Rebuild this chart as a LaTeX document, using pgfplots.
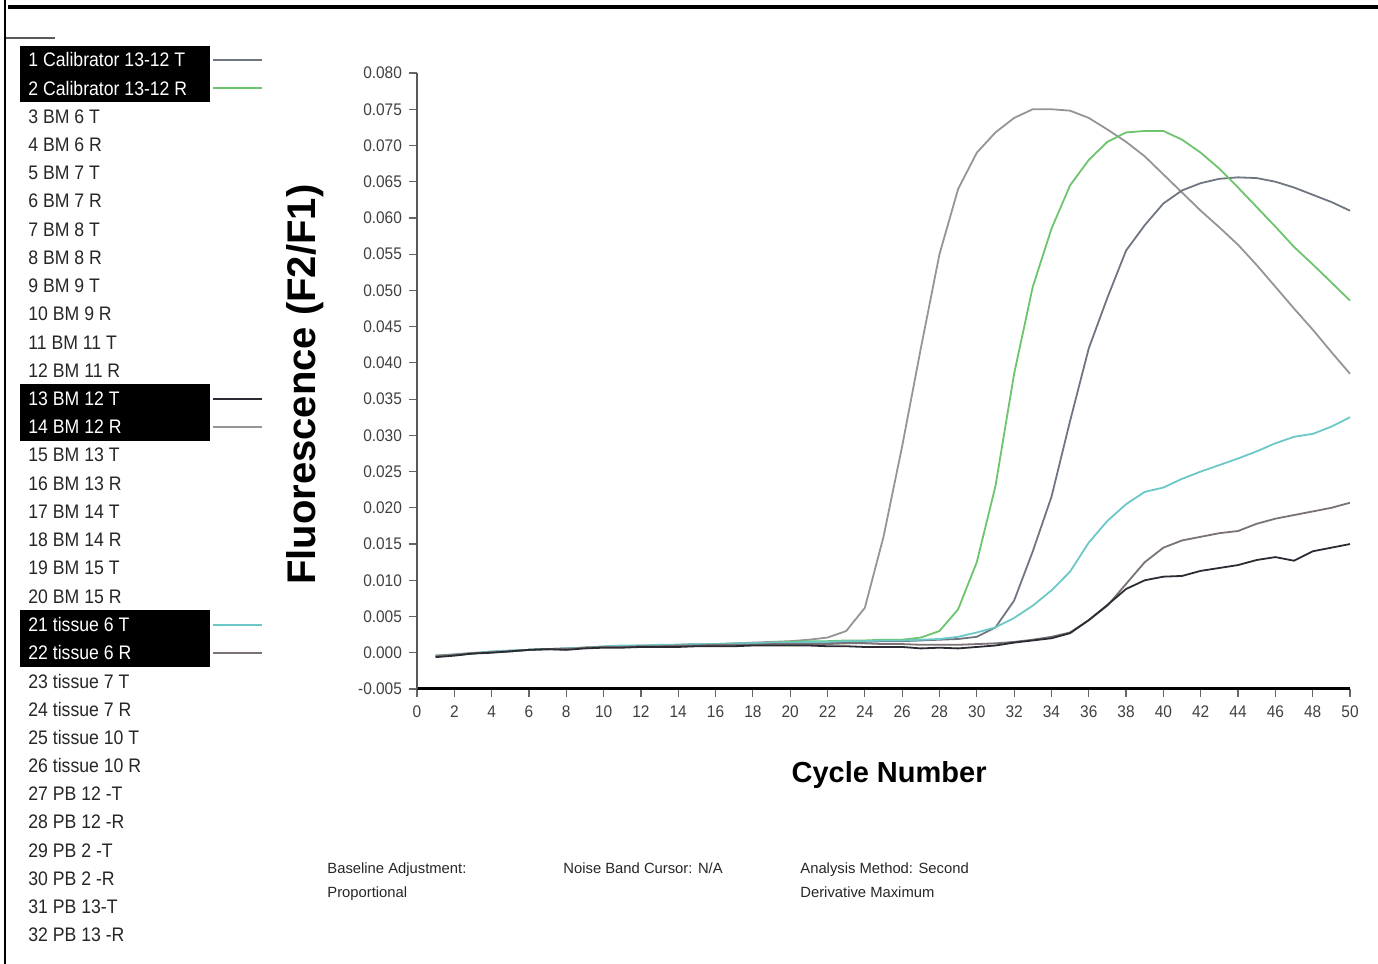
\documentclass[border=0pt]{standalone}
\usepackage{fontspec}
\setmainfont{Liberation Sans}
\newfontfamily\narrow[FakeStretch=0.9]{Liberation Sans}
\newfontfamily\ticknarrow[FakeStretch=0.92]{Liberation Sans}
\usepackage{pgfplots}
\usepackage{pgfplotstable}
\pgfplotsset{compat=1.18}

\definecolor{crvA}{HTML}{959595}
\definecolor{crvB}{HTML}{6CC46C}
\definecolor{crvC}{HTML}{6F7680}
\definecolor{crvD}{HTML}{6CC8C8}
\definecolor{crvE}{HTML}{7A7274}
\definecolor{crvF}{HTML}{2B2B33}

% cycle, then the six highlighted samples
\pgfplotstableread{
cyc A B C D E F
1  -0.0004 -0.0005 -0.0004 -0.0005 -0.0005 -0.0006
2  -0.0002 -0.0003 -0.0003 -0.0003 -0.0003 -0.0004
3   0.0000 -0.0001 -0.0001 -0.0001 -0.0001 -0.0001
4   0.0001  0.0001  0.0001  0.0002  0.0001  0.0000
5   0.0003  0.0002  0.0002  0.0003  0.0002  0.0002
6   0.0004  0.0004  0.0004  0.0004  0.0004  0.0004
7   0.0005  0.0005  0.0005  0.0005  0.0005  0.0005
8   0.0006  0.0005  0.0006  0.0006  0.0005  0.0004
9   0.0007  0.0007  0.0007  0.0007  0.0007  0.0006
10  0.0008  0.0008  0.0008  0.0009  0.0008  0.0007
11  0.0009  0.0009  0.0008  0.0010  0.0008  0.0007
12  0.0010  0.0009  0.0009  0.0010  0.0009  0.0008
13  0.0010  0.0010  0.0009  0.0011  0.0009  0.0008
14  0.0011  0.0011  0.0010  0.0011  0.0010  0.0008
15  0.0012  0.0011  0.0010  0.0012  0.0010  0.0009
16  0.0012  0.0012  0.0011  0.0012  0.0011  0.0009
17  0.0013  0.0012  0.0011  0.0013  0.0011  0.0009
18  0.0014  0.0013  0.0012  0.0013  0.0011  0.0010
19  0.0015  0.0014  0.0012  0.0014  0.0012  0.0010
20  0.0016  0.0015  0.0013  0.0014  0.0012  0.0010
21  0.0018  0.0016  0.0014  0.0015  0.0012  0.0010
22  0.0021  0.0016  0.0014  0.0015  0.0012  0.0009
23  0.0030  0.0017  0.0015  0.0016  0.0013  0.0009
24  0.0062  0.0017  0.0015  0.0016  0.0013  0.0008
25  0.0160  0.0018  0.0016  0.0017  0.0012  0.0008
26  0.0285  0.0018  0.0016  0.0017  0.0012  0.0008
27  0.0420  0.0021  0.0017  0.0018  0.0011  0.0006
28  0.0550  0.0030  0.0018  0.0019  0.0011  0.0007
29  0.0640  0.0060  0.0019  0.0022  0.0011  0.0006
30  0.0690  0.0125  0.0022  0.0028  0.0012  0.0008
31  0.0718  0.0230  0.0035  0.0035  0.0013  0.0010
32  0.0738  0.0385  0.0072  0.0048  0.0015  0.0014
33  0.0750  0.0505  0.0140  0.0065  0.0018  0.0017
34  0.0750  0.0585  0.0215  0.0086  0.0022  0.0020
35  0.0748  0.0645  0.0320  0.0112  0.0028  0.0027
36  0.0738  0.0680  0.0420  0.0152  0.0045  0.0045
37  0.0722  0.0705  0.0490  0.0182  0.0065  0.0066
38  0.0705  0.0718  0.0555  0.0205  0.0095  0.0088
39  0.0685  0.0720  0.0590  0.0222  0.0125  0.0100
40  0.0660  0.0720  0.0620  0.0228  0.0145  0.0105
41  0.0635  0.0708  0.0638  0.0240  0.0155  0.0106
42  0.0610  0.0690  0.0648  0.0250  0.0160  0.0113
43  0.0587  0.0668  0.0654  0.0259  0.0165  0.0117
44  0.0563  0.0642  0.0656  0.0268  0.0168  0.0121
45  0.0535  0.0615  0.0655  0.0278  0.0178  0.0128
46  0.0505  0.0588  0.0650  0.0289  0.0185  0.0132
47  0.0475  0.0560  0.0642  0.0298  0.0190  0.0127
48  0.0446  0.0536  0.0632  0.0302  0.0195  0.0140
49  0.0415  0.0511  0.0622  0.0312  0.0200  0.0145
50  0.0385  0.0486  0.0610  0.0325  0.0207  0.0150
}\amp

\begin{document}
\begin{tikzpicture}
\useasboundingbox (0,0) rectangle (689pt,482pt);

% page frame
\draw[line width=1pt] (2.5pt,0) -- (2.5pt,482pt);
\draw[line width=1.6pt] (4pt,478.5pt) -- (689pt,478.5pt);
\draw[line width=1pt, gray!70!black] (3pt,463pt) -- (27.5pt,463pt);

% highlighted sample boxes
\fill[black] (10pt,459pt) rectangle (105pt,431pt);
\fill[black] (10pt,290pt) rectangle (105pt,261.5pt);
\fill[black] (10pt,177pt) rectangle (105pt,148.5pt);

\foreach \n/\lab in {3/{3 BM 6 T},4/{4 BM 6 R},5/{5 BM 7  T},6/{6 BM 7 R},
  7/{7 BM 8  T},8/{8 BM 8 R},9/{9 BM 9  T},10/{10 BM 9 R},11/{11 BM 11  T},
  12/{12 BM 11 R},15/{15 BM 13  T},16/{16 BM 13 R},17/{17 BM 14 T},
  18/{18 BM 14 R},19/{19 BM 15  T},20/{20 BM 15 R},23/{23 tissue 7 T},
  24/{24 tissue 7  R},25/{25 tissue 10 T},26/{26 tissue 10  R},
  27/{27 PB 12 -T},28/{28 PB 12 -R},29/{29 PB 2 -T},30/{30 PB 2 -R},
  31/{31 PB 13-T},32/{32 PB 13 -R}}
  \node[anchor=west, inner sep=0pt, font=\narrow\fontsize{9.8}{10}\selectfont, text=black!85]
    at (14pt,{452pt-(\n-1)*14.115pt}) {\lab};

\foreach \n/\lab/\col in {1/{1 Calibrator 13-12 T}/crvC, 2/{2 Calibrator 13-12 R}/crvB,
  13/{13 BM 12  T}/crvF, 14/{14 BM 12 R}/crvA, 21/{21 tissue 6 T}/crvD, 22/{22 tissue 6  R}/crvE}{
  \node[anchor=west, inner sep=0pt, font=\narrow\fontsize{9.8}{10}\selectfont, text=white]
    at (14pt,{452pt-(\n-1)*14.115pt}) {\lab};
  \draw[\col, line width=1pt] (106.5pt,{452pt-(\n-1)*14.115pt}) -- (131pt,{452pt-(\n-1)*14.115pt});
}

% footnotes
\begin{scope}[every node/.style={anchor=base west, inner sep=0pt, font=\fontsize{7.4}{8}\selectfont, text=black!85}]
\node at (163.5pt,45pt) {Baseline Adjustment:};
\node at (163.5pt,33pt) {Proportional};
\node at (281.5pt,45pt) {Noise Band Cursor: N/A};
\node at (400pt,45pt) {Analysis Method: Second};
\node at (400pt,33pt) {Derivative Maximum};
\end{scope}

\begin{axis}[
  at={(208.5pt,137.5pt)}, anchor=south west,
  scale only axis, width=466.5pt, height=308pt,
  xmin=0, xmax=50, ymin=-0.005, ymax=0.080,
  axis lines*=left,
  x axis line style={line width=1.5pt, black},
  y axis line style={line width=0.8pt, black!65},
  xtick={0,2,...,50},
  ytick distance=0.005,
  scaled y ticks=false,
  yticklabel style={/pgf/number format/.cd, fixed, fixed zerofill, precision=3},
  /pgf/number format/assume math mode=true,
  tick align=outside, major tick length=4pt,
  tick style={black!60, line width=0.6pt},
  tick label style={font=\ticknarrow\fontsize{8.4}{9}\selectfont, text=black!75},
  xticklabel style={yshift=-1pt},
  xlabel={Cycle Number},
  ylabel={Fluorescence (F2/F1)},
  xlabel style={at={(axis description cs:0.506,-0.14)}, anchor=center,
    font=\bfseries\fontsize{14.5}{16}\selectfont},
  ylabel style={at={(axis description cs:-0.12,0.494)}, anchor=center,
    font=\bfseries\fontsize{20}{22}\selectfont},
  clip=false,
]
\addplot[crvA, line width=0.9pt] table[x=cyc, y=A] {\amp};
\addplot[crvC, line width=0.9pt] table[x=cyc, y=C] {\amp};
\addplot[crvB, line width=0.9pt] table[x=cyc, y=B] {\amp};
\addplot[crvD, line width=0.9pt] table[x=cyc, y=D] {\amp};
\addplot[crvE, line width=0.9pt] table[x=cyc, y=E] {\amp};
\addplot[crvF, line width=0.9pt] table[x=cyc, y=F] {\amp};
\end{axis}
\end{tikzpicture}
\end{document}
